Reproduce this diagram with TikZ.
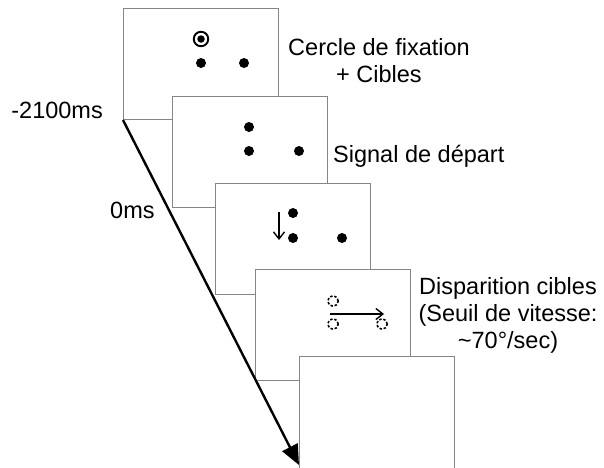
\documentclass[tikz,border=0pt]{standalone}
\usepackage{fontspec}
\setmainfont{Liberation Sans}
\usetikzlibrary{arrows.meta,positioning,calc}

\begin{document}
\begin{tikzpicture}[x=1pt, y=-1pt,
  font=\fontsize{23.5}{26.8}\selectfont, >={Straight Barb[length=7pt, width=11pt]},
  screen/.style={draw=gray!95, fill=white, line width=1pt, anchor=north west,
                 minimum width=155pt, minimum height=111pt, inner sep=0pt},
  dot/.style={circle, fill=black, inner sep=0pt, minimum size=10pt},
  ring/.style={circle, draw=black, line width=1.9pt, inner sep=0pt, minimum size=14.5pt},
  gone/.style={circle, draw=black, dash pattern=on 2.4pt off 1.9pt, line width=1.6pt,
               inner sep=0pt, minimum size=10.5pt},
  mv/.style={->, line width=1.4pt},
  lbl/.style={align=center, inner sep=0pt},
  timeline/.style={-{Triangle[length=20pt, width=17pt]}, line width=2.4pt}]
  \useasboundingbox (0,0) rectangle (604,467);
  % screen 1: fixation
  \node[screen] (fix) at (123,8) {};
  \node[ring] (fixring) at ($(fix.north west)+(78,31)$) {};
  \node[dot, minimum size=7.5pt] (fixcentre) at (fixring) {};
  \foreach \dx/\dy in {78/55, 121/55}
    \node[dot] (fix\dx) at ($(fix.north west)+(\dx,\dy)$) {};
  % screen 2: go signal
  \node[screen] (go) at (172,96) {};
  \foreach \dx/\dy in {77/31, 77/55, 127/55}
    \node[dot] (go\dx\dy) at ($(go.north west)+(\dx,\dy)$) {};
  % screen 3: saccade
  \node[screen] (sac) at (215,183) {};
  \foreach \dx/\dy in {78/30, 78/55, 127/55}
    \node[dot] (sac\dx\dy) at ($(sac.north west)+(\dx,\dy)$) {};
  \coordinate (sacfrom) at ($(sac.north west)+(64,29)$);
  \coordinate (sacto)   at ($(sac.north west)+(64,57)$);
  \draw[mv] (sacfrom) -- (sacto);
  % screen 4: targets gone
  \node[screen] (off) at (255,269) {};
  \foreach \dx/\dy in {78/32, 78/55, 127/55}
    \node[gone] (off\dx\dy) at ($(off.north west)+(\dx,\dy)$) {};
  \coordinate (offfrom) at ($(off.north west)+(75,45)$);
  \coordinate (offto)   at ($(off.north west)+(129,45)$);
  \draw[mv] (offfrom) -- (offto);
  % screen 5, cut off by the page edge
  \node[screen, minimum height=118pt] (last) at (299,356) {};
  % labels (base = last line)
  \node[lbl, anchor=base] (fixlbl) at (379,82) {Cercle de fixation\\+ Cibles};
  \node[lbl, anchor=base west] (golbl) at (333,162) {Signal de départ};
  \node[lbl, anchor=base] (offlbl) at (508,348)
     {Disparition cibles\\(Seuil de vitesse:\\\textasciitilde70°/sec)};
  \node[lbl, anchor=base east] (tstart) at (103,118) {-2100ms};
  \node[lbl, anchor=base west] (tzero) at (110,218) {0ms};
  % time axis
  \coordinate (tend) at (299,465);
  \draw[timeline] (fix.south west) -- (tend);
\end{tikzpicture}
\end{document}
